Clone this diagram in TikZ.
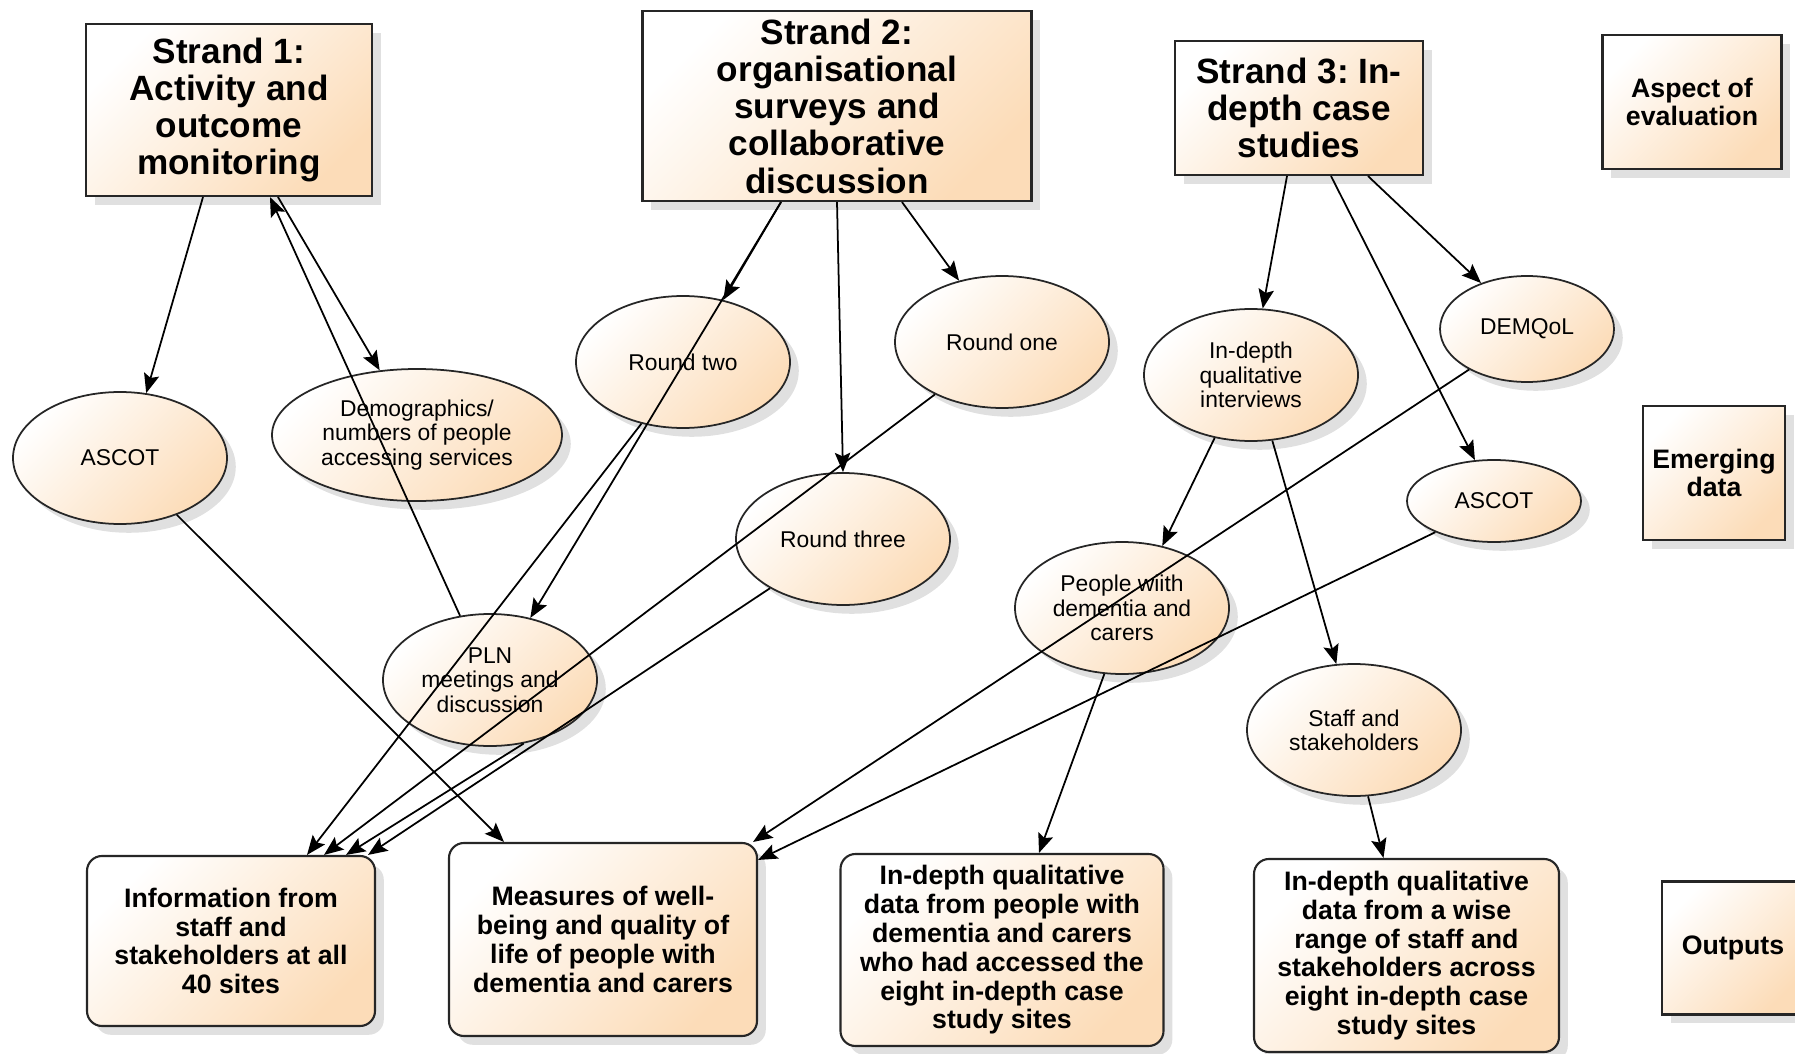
\documentclass[tikz,border=0pt]{standalone}
\usepackage{fontspec}
\setmainfont{Liberation Sans}
\usetikzlibrary{arrows.meta,shapes.geometric,shadows}
\definecolor{peach}{RGB}{252,220,184}
\frenchspacing

\begin{document}
\begin{tikzpicture}[line width=0.5pt,
    shaded/.style={draw=black!85, line width=0.6pt, top color=white, bottom color=peach, shading angle=45,
      drop shadow={shadow xshift=2.5pt, shadow yshift=-2.5pt, fill=black, opacity=0.12}},
    strand/.style={shaded, rectangle, align=center, inner sep=0.5pt,
      font=\bfseries\fontsize{10}{10.6}\selectfont},
    key/.style={shaded, rectangle, align=center, inner sep=0.5pt,
      font=\bfseries\fontsize{7.6}{8.2}\selectfont},
    outbox/.style={key, rounded corners=0.15cm},
    src/.style={shaded, ellipse, align=center, inner sep=0pt, line width=0.5pt,
      minimum width=2.14cm, minimum height=1.32cm,
      font=\fontsize{6.5}{6.9}\selectfont},
    arr/.style={-{Stealth[length=5.5pt,width=4.4pt,inset=1pt]}}]
    \useasboundingbox (0,0) rectangle (17.95,-10.54);
    \clip (0,0) rectangle (17.95,-10.54);

    \node[strand, minimum width=2.86cm, minimum height=1.72cm] (S1) at (2.29,-1.10) {Strand 1:\\Activity and\\outcome\\monitoring};
    \node[strand, minimum width=3.89cm, minimum height=1.90cm] (S2) at (8.37,-1.06) {Strand 2:\\organisational\\surveys and\\collaborative\\discussion};
    \node[strand, minimum width=2.48cm, minimum height=1.34cm] (S3) at (12.99,-1.08) {Strand 3: In-\\depth case\\studies};
    \node[key, minimum width=1.79cm, minimum height=1.34cm] (Aspect) at (16.92,-1.02) {Aspect of\\evaluation};
    \node[key, minimum width=1.42cm, minimum height=1.34cm] (Emerging) at (17.14,-4.73) {Emerging\\data};
    \node[key, minimum width=1.42cm, minimum height=1.33cm] (Outputs) at (17.33,-9.48) {Outputs};

    \node[src] (ASCOT1) at (1.20,-4.58) {ASCOT};
    \node[src, minimum width=2.90cm] (Demo) at (4.17,-4.35) {Demographics/\\numbers of people\\accessing services};
    \node[src] (R2) at (6.83,-3.62) {Round two};
    \node[src] (R1) at (10.02,-3.42) {Round one};
    \node[src] (R3) at (8.43,-5.39) {Round three};
    \node[src] (PLN) at (4.90,-6.80) {PLN\\meetings and\\discussion};
    \node[src] (Intv) at (12.51,-3.75) {In-depth\\qualitative\\interviews};
    \node[src, minimum width=1.74cm, minimum height=1.06cm] (DEMQoL) at (15.27,-3.29) {DEMQoL};
    \node[src, minimum width=1.74cm, minimum height=0.82cm] (ASCOT3) at (14.94,-5.01) {ASCOT};
    \node[src] (PwD) at (11.22,-6.08) {People wiith\\dementia and\\carers};
    \node[src] (Staff) at (13.54,-7.30) {Staff and\\stakeholders};

    \node[outbox, minimum width=2.88cm, minimum height=1.70cm] (O1) at (2.31,-9.41) {Information from\\staff and\\stakeholders at all\\40 sites};
    \node[outbox, minimum width=3.08cm, minimum height=1.93cm] (O2) at (6.03,-9.395) {Measures of well-\\being and quality of\\life of people with\\dementia and carers};
    \node[outbox, minimum width=3.23cm, minimum height=1.92cm] (O3) at (10.02,-9.50) {In-depth qualitative\\data from people with\\dementia and carers\\who had accessed the\\eight in-depth case\\study sites};
    \node[outbox, minimum width=3.05cm, minimum height=1.93cm] (O4) at (14.065,-9.555) {In-depth qualitative\\data from a wise\\range of staff and\\stakeholders across\\eight in-depth case\\study sites};

    \draw[arr] ([xshift=-0.26cm]S1.south) -- (ASCOT1.68);
    \draw[arr] ([xshift=0.49cm]S1.south) -- (Demo.120);
    \draw[arr] (PLN.115) -- ([xshift=0.41cm]S1.south);
    \draw[arr] (ASCOT1.-45) -- ([xshift=-0.99cm]O2.north);

    \draw[arr] ([xshift=-0.56cm]S2.south) -- (R2.57);
    \draw[arr] ([xshift=-0.56cm]S2.south) -- (PLN.57);
    \draw[arr] (S2.south) -- (R3.north);
    \draw[arr] ([xshift=0.65cm]S2.south) -- (R1.125);

    \draw[arr] (R2.236) -- ([xshift=0.76cm]O1.north);
    \draw[arr] (R1.218) -- ([xshift=0.93cm]O1.north);
    \draw[arr] (PLN.-62) -- ([xshift=1.15cm]O1.north);
    \draw[arr] (R3.214) -- ([xshift=1.37cm]O1.north);

    \draw[arr] ([xshift=-0.12cm]S3.south) -- (Intv.80);
    \draw[arr] ([xshift=0.32cm]S3.south) -- (ASCOT3.115);
    \draw[arr] ([xshift=0.69cm]S3.south) -- (DEMQoL.135);
    \draw[arr] (Intv.240) -- (PwD.57);
    \draw[arr] (Intv.-72) -- (Staff.105);

    \draw[arr] (DEMQoL.215) -- ([xshift=-0.05cm]O2.north east);
    \draw[arr] (ASCOT3.208) -- ([yshift=-0.18cm]O2.north east);
    \draw[arr] (PwD.255) -- ([xshift=0.37cm]O3.north);
    \draw[arr] (Staff.-78) -- ([xshift=-0.23cm]O4.north);
\end{tikzpicture}
\end{document}
